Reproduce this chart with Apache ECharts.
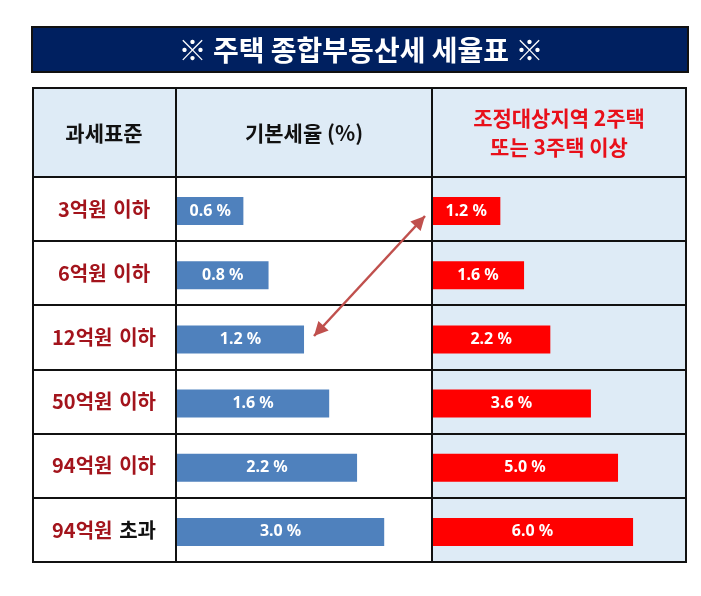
<!DOCTYPE html>
<html>
<head>
<meta charset="utf-8">
<script src="https://cdn.jsdelivr.net/npm/echarts@6/dist/echarts.min.js"></script>
<style>
  html, body { margin: 0; padding: 0; background: #fff; }
  #chart { width: 701px; height: 596px; }
</style>
</head>
<body>
<div id="chart"></div>
<script>
var title = '※ 주택 종합부동산세 세율표 ※'
var headers = ['과세표준', '기본세율 (%)', '조정대상지역 2주택\n또는 3주택 이상']
var brackets = ['3억원 이하', '6억원 이하', '12억원 이하', '50억원 이하', '94억원 이하', '94억원 초과']
var baseRate = [0.6, 0.8, 1.2, 1.6, 2.2, 3.0]
var heavyRate = [1.2, 1.6, 2.2, 3.6, 5.0, 6.0]

var KR = '"Noto Sans CJK KR", "Noto Sans", sans-serif'
var LIGHT = '#DEEBF6'
var DARKRED = '#A3141C'

// table geometry
var tLeft = 32, tRight = 686, tTop = 87, hBottom = 177, tBottom = 562
var col1 = 176, col2 = 432
var rowH = (tBottom - hBottom) / brackets.length

function barRenderer(color) {
    return function (params, api) {
        var end = api.coord([api.value(0), api.value(1)])
        var x0 = params.coordSys.x
        return {
            type: 'rect',
            shape: {x: x0, y: end[1] - 12, width: end[0] - x0, height: 28},
            style: {fill: color},
            textContent: {
                style: {
                    text: api.value(0).toFixed(1) + ' %',
                    fill: '#fff',
                    fontSize: 16,
                    fontWeight: 'bold',
                    fontFamily: '"Noto Sans", sans-serif'
                }
            },
            textConfig: {position: 'inside'}
        }
    }
}

function arrowHead(tip, from, len, half) {
    var dx = tip[0] - from[0], dy = tip[1] - from[1]
    var d = Math.sqrt(dx * dx + dy * dy)
    var ux = dx / d, uy = dy / d
    var bx = tip[0] - ux * len, by = tip[1] - uy * len
    return [tip, [bx - uy * half, by + ux * half], [bx + uy * half, by - ux * half]]
}

var graphics = []
// title bar
graphics.push({type: 'rect', z: 0, shape: {x: 32, y: 27, width: 656, height: 45},
    style: {fill: '#002060', stroke: '#111', lineWidth: 2}})
graphics.push({type: 'text', z: 1, x: 361, y: 50,
    style: {text: title, fill: '#fff', font: 'bold 28px ' + KR, align: 'center', verticalAlign: 'middle'}})
// backgrounds
graphics.push({type: 'rect', z: 0, shape: {x: tLeft, y: tTop, width: tRight - tLeft, height: hBottom - tTop},
    style: {fill: LIGHT}})
graphics.push({type: 'rect', z: 0, shape: {x: col2, y: hBottom, width: tRight - col2, height: tBottom - hBottom},
    style: {fill: LIGHT}})
// header texts
var headerX = [(tLeft + col1) / 2, (col1 + col2) / 2, (col2 + tRight) / 2]
headers.forEach(function (h, i) {
    graphics.push({type: 'text', z: 5, x: headerX[i], y: (tTop + hBottom) / 2 + 1,
        style: {text: h, fill: i === 2 ? '#E8101A' : '#111', font: 'bold 21px ' + KR,
            align: 'center', verticalAlign: 'middle', lineHeight: 29}})
})
// grid lines
for (var r = 0; r < brackets.length; r++) {
    var yy = Math.round(hBottom + r * rowH)
    graphics.push({type: 'line', z: 100, shape: {x1: tLeft, y1: yy, x2: tRight, y2: yy},
        style: {stroke: '#111', lineWidth: 2}})
}
graphics.push({type: 'line', z: 100, shape: {x1: col1, y1: tTop, x2: col1, y2: tBottom}, style: {stroke: '#111', lineWidth: 2}})
graphics.push({type: 'line', z: 100, shape: {x1: col2, y1: tTop, x2: col2, y2: tBottom}, style: {stroke: '#111', lineWidth: 2}})
graphics.push({type: 'rect', z: 100, shape: {x: tLeft + 1, y: tTop + 1, width: tRight - tLeft - 1, height: tBottom - tTop - 1},
    style: {fill: 'none', stroke: '#111', lineWidth: 2}})
// double arrow
var pA = [425, 216], pB = [314, 336]
graphics.push({type: 'line', z: 110, shape: {x1: pA[0], y1: pA[1], x2: pB[0], y2: pB[1]},
    style: {stroke: '#C0504D', lineWidth: 2.5}})
graphics.push({type: 'polygon', z: 110, shape: {points: arrowHead(pA, pB, 14, 7)}, style: {fill: '#C0504D'}})
graphics.push({type: 'polygon', z: 110, shape: {points: arrowHead(pB, pA, 14, 7)}, style: {fill: '#C0504D'}})

var option = {
    animation: false,
    backgroundColor: '#fff',
    graphic: {elements: graphics},
    grid: [
        {left: col1 + 1, top: hBottom, width: col2 - col1 - 1, height: tBottom - hBottom},
        {left: col2, top: hBottom, width: tRight - col2, height: tBottom - hBottom}
    ],
    xAxis: [
        {type: 'log', gridIndex: 0, min: 0.281, max: 5.18, show: false},
        {type: 'log', gridIndex: 1, min: 0.524, max: 11.4, show: false}
    ],
    yAxis: [
        {
            type: 'category', gridIndex: 0, data: brackets, inverse: true,
            axisLine: {show: false}, axisTick: {show: false}, splitLine: {show: false},
            axisLabel: {
                margin: col1 + 1 - (tLeft + col1) / 2,
                align: 'center',
                formatter: function (v) {
                    var p = v.split(' ')
                    return '{r|' + p[0] + '}  {' + (p[1] === '초과' ? 'k' : 'r') + '|' + p[1] + '}'
                },
                rich: {
                    r: {color: DARKRED, fontSize: 20, fontWeight: 'bold', fontFamily: KR},
                    k: {color: '#111', fontSize: 20, fontWeight: 'bold', fontFamily: KR}
                }
            }
        },
        {type: 'category', gridIndex: 1, data: brackets, inverse: true, show: false}
    ],
    series: [
        {
            type: 'custom', xAxisIndex: 0, yAxisIndex: 0,
            data: baseRate.map(function (v, i) { return [v, i] }),
            encode: {x: 0, y: 1},
            renderItem: barRenderer('#4F81BD')
        },
        {
            type: 'custom', xAxisIndex: 1, yAxisIndex: 1,
            data: heavyRate.map(function (v, i) { return [v, i] }),
            encode: {x: 0, y: 1},
            renderItem: barRenderer('#FF0000')
        }
    ]
}

var chart = echarts.init(document.getElementById('chart'))
chart.setOption(option)
</script>
</body>
</html>
